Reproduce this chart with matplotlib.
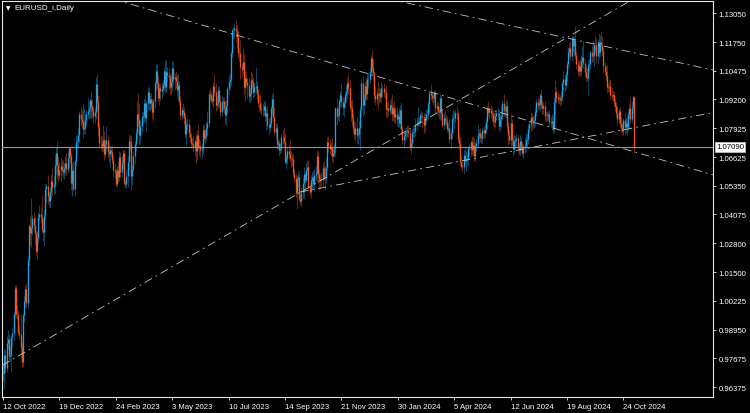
import matplotlib
matplotlib.use("Agg")
import matplotlib.pyplot as plt
import matplotlib.transforms as mtransforms
import numpy as np
import pandas as pd

# ---------------- data ----------------
chart_title = "EURUSD_i,Daily"
first_open = 9704          # price * 10000 of the first bar's open
start_date = "2022-10-12"
end_date = "2024-11-06"
skipped_days = ["2022-12-26", "2023-12-25", "2024-01-01"]

# daily closes (price * 10000), one row per week
close_pips = [
    9702, 9780, 9722,
    9837, 9855, 9775, 9780, 9860,
    9880, 9965, 10078, 9965, 9965,
    9883, 9875, 9818, 9750, 9960,
    10020, 10074, 10013, 10207, 10355,
    10323, 10348, 10392, 10362, 10325,
    10245, 10304, 10397, 10408, 10398,
    10338, 10330, 10405, 10523, 10536,
    10491, 10467, 10508, 10556, 10530,
    10540, 10629, 10681, 10627, 10584,
    10607, 10622, 10604, 10595, 10615,
    10638, 10612, 10660, 10703,
    10668, 10548, 10606, 10521, 10645,
    10731, 10735, 10762, 10853, 10831,
    10821, 10790, 10794, 10830, 10856,
    10868, 10884, 10917, 10890, 10868,
    10847, 10863, 10989, 10910, 10796,
    10725, 10728, 10712, 10738, 10677,
    10723, 10738, 10688, 10675, 10694,
    10686, 10650, 10606, 10595, 10545,
    10607, 10576, 10665, 10596, 10636,
    10681, 10548, 10545, 10581, 10640,
    10733, 10730, 10577, 10610, 10669,
    10720, 10770, 10854, 10832, 10760,
    10800, 10843, 10845, 10904, 10839,
    10902, 10955, 10905, 10920, 10903,
    10862, 10913, 10993, 11046, 10993,
    10927, 10973, 10956, 10966, 10987,
    11046, 10975, 11043, 11030, 11018,
    10975, 10998, 11061, 11013, 11018,
    11003, 10961, 10984, 10914, 10850,
    10872, 10862, 10839, 10766, 10805,
    10811, 10771, 10751, 10725, 10722,
    10706, 10736, 10689, 10762, 10708,
    10712, 10694, 10699, 10782, 10749,
    10759, 10793, 10817, 10943, 10939,
    10924, 10915, 10978, 10955, 10895,
    10906, 10960, 10912, 10866, 10909,
    10911, 10881, 10852, 10889, 10969,
    10998, 11010, 11129, 11228, 11229,
    11237, 11226, 11200, 11129, 11125,
    11063, 11054, 11086, 10975, 11016,
    10997, 10984, 10937, 10946, 11006,
    10999, 10955, 10975, 10980, 10946,
    10906, 10904, 10878, 10872, 10872,
    10893, 10846, 10861, 10808, 10796,
    10817, 10882, 10923, 10843, 10774,
    10795, 10720, 10725, 10696, 10700,
    10751, 10753, 10732, 10642, 10658,
    10690, 10678, 10660, 10657, 10653,
    10592, 10569, 10501, 10565, 10573,
    10478, 10467, 10508, 10546, 10588,
    10562, 10605, 10618, 10530, 10508,
    10562, 10576, 10545, 10583, 10594,
    10670, 10589, 10566, 10563, 10565,
    10616, 10575, 10568, 10620, 10729,
    10717, 10699, 10710, 10667, 10683,
    10700, 10881, 10848, 10850, 10914,
    10939, 10910, 10887, 10902, 10939,
    10954, 10991, 10970, 10887, 10884,
    10837, 10795, 10765, 10793, 10761,
    10764, 10793, 10872, 10993, 10895,
    10922, 10981, 10942, 11009, 11012,
    11043, 11105, 11061, 11038,
    10940, 10923, 10946, 10941,
    10949, 10929, 10972, 10972, 10952,
    10951, 10877, 10884, 10875, 10897,
    10885, 10855, 10884, 10842, 10855,
    10833, 10844, 10817, 10872, 10788,
    10741, 10755, 10773, 10779, 10784,
    10772, 10709, 10727, 10772, 10777,
    10779, 10808, 10820, 10822, 10820,
    10850, 10844, 10840, 10804, 10838,
    10856, 10855, 10899, 10947, 10938,
    10928, 10927, 10947, 10881, 10889,
    10867, 10865, 10925, 10860, 10808,
    10838, 10830, 10826, 10790, 10793,
    10742, 10770, 10835, 10836, 10839,
    10859, 10855, 10742, 10727, 10642,
    10625, 10617, 10673, 10644, 10656,
    10655, 10703, 10698, 10729, 10694,
    10719, 10666, 10711, 10727, 10762,
    10770, 10751, 10750, 10782, 10770,
    10789, 10820, 10883, 10865, 10871,
    10858, 10855, 10823, 10818, 10847,
    10858, 10859, 10800, 10832, 10848,
    10903, 10875, 10868, 10891, 10801,
    10763, 10741, 10813, 10738, 10701,
    10733, 10738, 10747, 10703, 10693,
    10733, 10715, 10681, 10702, 10713,
    10740, 10743, 10790, 10810, 10840,
    10826, 10813, 10830, 10866, 10907,
    10896, 10900, 10938, 10896, 10883,
    10892, 10846, 10845, 10848, 10855,
    10820, 10816, 10826, 10790, 10910,
    10952, 10933, 10922, 10920, 10917,
    10933, 10992, 11012, 10985, 11027,
    11080, 11130, 11151, 11112, 11192,
    11160, 11183, 11118, 11077, 11048,
    11069, 11045, 11090, 11111, 11082,
    11041, 11018, 11015, 11075, 11076,
    11131, 11115, 11117, 11162, 11163,
    11112, 11178, 11133, 11178, 11163,
    11135, 11068, 11048, 11030, 10975,
    10974, 10980, 10941, 10936, 10938,
    10907, 10890, 10861, 10834, 10867,
    10817, 10797, 10781, 10828, 10797,
    10816, 10798, 10857, 10883, 10834,
    10880, 10929, 10709,
]

# upper wick above the body, in pips
wick_up_pips = [
    40, 28, 30,
    30, 40, 20, 45, 10,
    20, 10, 15, 15, 40,
    15, 30, 90, 20, 10,
    25, 20, 30, 15, 10,
    45, 132, 15, 25, 40,
    10, 30, 20, 40, 35,
    95, 50, 25, 20, 10,
    48, 20, 20, 30, 60,
    40, 45, 25, 55, 35,
    35, 35, 30, 45, 20,
    30, 45, 30, 10,
    10, 15, 30, 40, 10,
    30, 20, 30, 15, 35,
    40, 80, 90, 30, 15,
    60, 30, 10, 40, 30,
    25, 20, 30, 44, 30,
    20, 35, 30, 70, 40,
    20, 65, 25, 40, 20,
    20, 30, 20, 30, 20,
    15, 40, 25, 20, 30,
    15, 20, 15, 30, 30,
    35, 30, 30, 20, 20,
    15, 20, 60, 95, 70,
    25, 20, 25, 20, 35,
    10, 20, 20, 20, 30,
    20, 15, 10, 30, 30,
    30, 20, 20, 30, 20,
    20, 50, 52, 20, 35,
    20, 30, 30, 30, 20,
    30, 30, 50, 20, 20,
    20, 30, 25, 20, 25,
    25, 20, 30, 20, 25,
    40, 10, 30, 20, 50,
    30, 25, 25, 25, 30,
    30, 30, 50, 20, 30,
    20, 20, 20, 55, 40,
    30, 20, 20, 30, 25,
    20, 20, 30, 30, 10,
    30, 30, 10, 10, 15,
    20, 39, 25, 30, 20,
    60, 20, 65, 40, 30,
    30, 20, 30, 25, 35,
    30, 20, 20, 85, 20,
    20, 35, 40, 30, 30,
    20, 20, 20, 30, 30,
    25, 10, 20, 30, 40,
    20, 20, 20, 15, 25,
    20, 30, 40, 40, 20,
    20, 25, 60, 30, 20,
    25, 20, 20, 20, 30,
    20, 20, 20, 30, 30,
    10, 30, 30, 30, 20,
    20, 20, 30, 30, 30,
    25, 20, 20, 20, 30,
    20, 30, 50, 45, 25,
    30, 25, 20, 40, 20,
    20, 5, 45, 35, 10,
    20, 55, 20, 25, 20,
    30, 25, 40, 40, 30,
    40, 20, 25, 30, 50,
    30, 30, 20, 16, 30,
    20, 20, 40, 30, 30,
    20, 15, 35, 40,
    5, 40, 20, 55,
    25, 20, 25, 15, 20,
    20, 30, 25, 30, 20,
    30, 60, 15, 30, 30,
    30, 20, 40, 25, 35,
    15, 20, 20, 20, 20,
    20, 20, 15, 20, 30,
    20, 30, 20, 65, 20,
    15, 20, 20, 20, 20,
    20, 20, 15, 15, 40,
    20, 20, 15, 15, 20,
    20, 20, 20, 12, 20,
    20, 30, 20, 20, 20,
    40, 20, 20, 40, 30,
    20, 30, 20, 35, 30,
    30, 20, 20, 40, 35,
    20, 10, 20, 10, 30,
    35, 30, 25, 20, 50,
    20, 25, 20, 15, 20,
    20, 20, 10, 30, 15,
    25, 30, 20, 40, 15,
    15, 25, 20, 20, 40,
    15, 40, 20, 25, 20,
    20, 20, 40, 20, 20,
    30, 25, 20, 20, 25,
    30, 20, 20, 20, 40,
    35, 25, 20, 20, 20,
    20, 20, 20, 20, 15,
    25, 20, 10, 30, 20,
    15, 20, 20, 20, 15,
    20, 25, 30, 20, 15,
    55, 25, 20, 20, 20,
    20, 10, 35, 20, 20,
    10, 25, 20, 30, 10,
    10, 20, 65, 20, 20,
    20, 30, 30, 45, 70,
    20, 30, 40, 20, 25,
    10, 30, 70, 15, 40,
    30, 10, 36, 30, 45,
    40, 20, 20, 20, 45,
    20, 25, 30, 35, 20,
    20, 20, 20, 30, 10,
    20, 25, 20, 10, 35,
    20, 30, 10, 20, 50,
    30, 8, 8,
]

# lower wick below the body, in pips
wick_dn_pips = [
    35, 70, 15,
    15, 30, 25, 20, 75,
    40, 30, 20, 20, 25,
    15, 20, 45, 20, 20,
    30, 25, 20, 25, 25,
    50, 60, 30, 30, 50,
    20, 35, 20, 15, 30,
    15, 40, 60, 20, 60,
    35, 25, 30, 30, 40,
    30, 40, 40, 60, 30,
    20, 50, 20, 25, 30,
    30, 30, 20, 40,
    30, 30, 60, 10, 30,
    20, 25, 30, 30, 25,
    30, 40, 25, 30, 25,
    20, 35, 45, 55, 30,
    30, 30, 30, 35, 40,
    20, 30, 25, 20, 25,
    20, 30, 30, 35, 60,
    20, 15, 30, 25, 10,
    15, 25, 20, 20, 20,
    20, 10, 20, 20, 50,
    30, 30, 61, 40, 10,
    35, 30, 30, 30, 45,
    40, 25, 30, 30, 20,
    60, 30, 30, 35, 25,
    30, 40, 30, 30, 20,
    15, 30, 40, 30, 25,
    30, 25, 20, 30, 50,
    35, 35, 40, 30, 50,
    30, 25, 50, 20, 20,
    20, 20, 30, 20, 50,
    20, 20, 20, 20, 15,
    20, 40, 54, 40, 10,
    35, 30, 35, 20, 20,
    25, 25, 30, 20, 25,
    20, 20, 30, 20, 25,
    20, 20, 30, 30, 20,
    30, 20, 40, 45, 30,
    30, 35, 30, 20, 40,
    30, 50, 50, 25, 35,
    50, 30, 20, 30, 60,
    20, 60, 30, 35, 30,
    30, 30, 25, 20, 25,
    20, 40, 20, 20, 25,
    20, 20, 60, 20, 30,
    20, 20, 30, 20, 10,
    30, 20, 20, 30, 20,
    20, 30, 20, 10, 30,
    25, 25, 20, 40, 30,
    15, 20, 15, 70, 40,
    10, 19, 20, 25, 70,
    50, 10, 20, 20, 15,
    25, 40, 20, 35, 20,
    40, 40, 50, 40, 30,
    35, 20, 50, 20, 15,
    30, 20, 30, 25, 25,
    20, 30, 40, 20, 25,
    25, 30, 35, 45, 20,
    30, 30, 25, 20, 60,
    30, 25, 20, 30, 40,
    40, 20, 100, 30, 50,
    40, 25, 30, 20, 40,
    20, 20, 25, 30,
    30, 30, 30, 65,
    35, 20, 20, 40, 20,
    25, 35, 40, 30, 20,
    30, 30, 30, 25, 25,
    30, 35, 20, 30, 20,
    20, 30, 30, 30, 25,
    20, 15, 30, 20, 20,
    25, 20, 25, 20, 20,
    20, 25, 45, 35, 30,
    20, 20, 20, 40, 20,
    20, 30, 20, 20, 20,
    20, 30, 35, 25, 10,
    25, 20, 25, 15, 15,
    15, 45, 20, 20, 45,
    20, 25, 15, 30, 20,
    10, 16, 30, 15, 45,
    25, 30, 25, 30, 20,
    25, 20, 20, 20, 20,
    20, 20, 25, 30, 20,
    20, 25, 30, 20, 30,
    20, 30, 20, 30, 20,
    20, 30, 15, 20, 35,
    20, 30, 25, 30, 20,
    45, 20, 30, 20, 35,
    20, 25, 25, 20, 20,
    20, 20, 10, 20, 20,
    25, 35, 20, 20, 30,
    40, 20, 20, 30, 20,
    20, 25, 30, 20, 30,
    30, 20, 20, 20, 20,
    20, 20, 30, 20, 20,
    60, 30, 20, 20, 20,
    20, 20, 30, 30, 20,
    25, 20, 20, 15, 20,
    30, 45, 20, 20, 20,
    30, 20, 20, 25, 20,
    20, 20, 15, 75, 30,
    20, 30, 30, 50, 20,
    30, 30, 30, 20, 20,
    20, 30, 20, 30, 25,
    20, 20, 20, 20, 20,
    20, 20, 20, 25, 20,
    20, 20, 20, 20, 30,
    25, 35, 20, 25, 20,
    20, 20, 27,
]

# price-axis tick values
price_ticks = [1.13050, 1.11750, 1.10475, 1.09200, 1.07925, 1.06625, 1.05350,
               1.04075, 1.02800, 1.01500, 1.00225, 0.98950, 0.97675, 0.96375]
label_every_bars = 48

# drawn trendlines: (bar1, price1, bar2, price2, extend_left)
trend_a = (99.6, 1.13585, 537.9, 1.06858, True)
trend_b = (336.2, 1.13585, 584.7, 1.10734, True)
trend_c = (-2.55, 0.97299, 533.6, 1.13585, True)
trend_d = (252.8, 1.05077, 584.7, 1.08418, False)
trendlines = [trend_a, trend_b, trend_c, trend_d]

# ---------------- build ----------------
dates = pd.bdate_range(start_date, end_date)
dates = dates[~dates.isin(pd.to_datetime(skipped_days))]
c = np.array(close_pips) / 1e4
up = np.array(wick_up_pips) / 1e4
dn = np.array(wick_dn_pips) / 1e4
n = len(c)
assert len(up) == n and len(dn) == n and len(dates) == n, (len(c), len(up), len(dn), len(dates))
o = np.r_[first_open / 1e4, c[:-1]]
h = np.maximum(o, c) + up
l = np.minimum(o, c) - dn
x = np.arange(n)
bull = c >= o

BULL = "#16a6ec"
BEAR = "#f4561a"

W, H = 750, 414
fig = plt.figure(figsize=(W / 100, H / 100), dpi=100, facecolor="black")
ax = fig.add_axes([2 / W, 16 / H, 711 / W, 396 / H], facecolor="black")

ax.set_xlim(-0.85, 604.3)
ax.set_ylim(0.95945, 1.13585)

cols = np.where(bull, BULL, BEAR)
ax.vlines(x, l, h, colors=cols, lw=0.5, alpha=0.6, zorder=2)
ax.vlines(x, np.minimum(o, c), np.maximum(o, c), colors=cols, lw=0.95, zorder=3)

# trendlines
x0, x1 = ax.get_xlim()
for (bx1, p1, bx2, p2, ext) in trendlines:
    slope = (p2 - p1) / (bx2 - bx1)
    xs = np.array([x0 if ext else bx1, x1])
    ys = p1 + slope * (xs - bx1)
    ax.plot(xs, ys, color="#c4c4c4", lw=0.6, dashes=(10, 5, 2, 5), zorder=4)

# current price line
last = c[-1]
ax.axhline(last, color="#8497b5", lw=0.8, zorder=5)

# axes styling
for s in ax.spines.values():
    s.set_color("#e8e8e8")
    s.set_linewidth(0.8)

ax.yaxis.tick_right()
ax.set_yticks(price_ticks)
ax.set_yticklabels([f"{v:.5f}" for v in price_ticks])
tick_pos = list(range(0, n, label_every_bars))
ax.set_xticks(tick_pos)
ax.set_xticklabels([f"{dates[i].day} {dates[i].strftime('%b %Y')}" for i in tick_pos])
ax.tick_params(axis="both", colors="#e8e8e8", labelcolor="white", length=2.2, width=0.6,
               labelsize=5.6, direction="out")
ax.tick_params(axis="y", pad=1.8)
ax.tick_params(axis="x", pad=2.2)
for t in ax.get_xticklabels():
    t.set_ha("left")
    t.set_fontfamily("Liberation Sans")
for t in ax.get_yticklabels():
    t.set_fontfamily("Liberation Sans")

# current price label
trans = mtransforms.offset_copy(
    mtransforms.blended_transform_factory(ax.transAxes, ax.transData), fig=fig, x=3, y=0, units="dots")
ax.text(1.0, last, f"{last:.5f}", transform=trans, ha="left", va="center", fontsize=5.6,
        family="Liberation Sans", color="black", clip_on=False, zorder=10,
        bbox=dict(boxstyle="square,pad=0.18", fc="white", ec="#cccccc", lw=0.5))

# title
fig.text(6 / W, 1 - 9 / H, "\u25BC", color="white", fontsize=4.2, va="center", ha="left",
         family="DejaVu Sans")
fig.text(14 / W, 1 - 9 / H, chart_title, color="white", fontsize=5.8, va="center", ha="left",
         family="Liberation Sans")

fig.savefig("out.png", dpi=100, facecolor="black")
